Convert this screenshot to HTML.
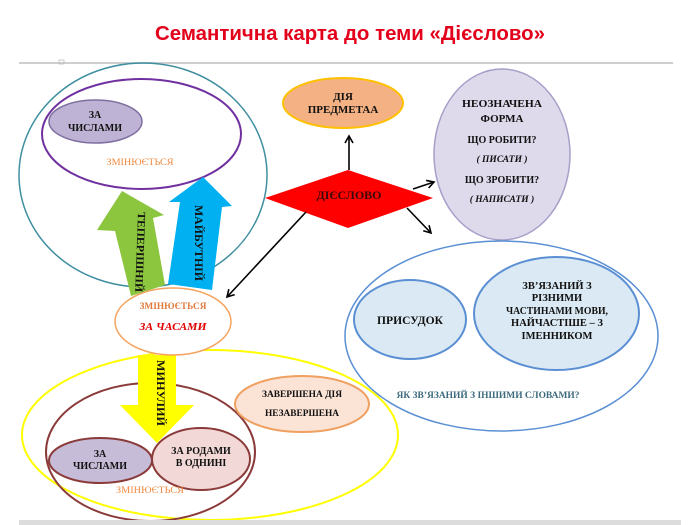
<!DOCTYPE html>
<html><head><meta charset="utf-8"><style>
html,body{margin:0;padding:0;background:#fff;}
svg{display:block;}
.t{font-family:"Liberation Serif","DejaVu Serif",serif;font-weight:bold;}
</style></head><body>
<svg width="700" height="525" viewBox="0 0 700 525" xmlns="http://www.w3.org/2000/svg">
<defs>
<marker id="ah" markerWidth="10" markerHeight="10" refX="8" refY="5" orient="auto" markerUnits="userSpaceOnUse">
<path d="M1,1 L8,5 L1,9" fill="none" stroke="#000" stroke-width="1.6"/>
</marker>
</defs>
<rect width="700" height="525" fill="#fff"/>
<text x="350" y="40" text-anchor="middle" font-family="'Liberation Sans',sans-serif" font-weight="bold" font-size="20" fill="#e3001b" textLength="390" lengthAdjust="spacingAndGlyphs">Семантична карта до теми «Дієслово»</text>
<line x1="19" y1="63" x2="673" y2="63" stroke="#cfcfcf" stroke-width="2"/>
<rect x="59" y="60" width="5" height="4" fill="none" stroke="#bbb" stroke-width="0.8"/>

<!-- top-left group -->
<ellipse cx="143" cy="175" rx="124" ry="112" fill="none" stroke="#3f8fa0" stroke-width="1.5"/>
<ellipse cx="141.5" cy="134" rx="99.5" ry="55" fill="none" stroke="#7030a0" stroke-width="2"/>
<ellipse cx="95.5" cy="121.5" rx="46.5" ry="21.5" fill="#bfb3d5" stroke="#7f6fa0" stroke-width="1.5"/>
<text class="t" fill="#111" x="95" y="118" text-anchor="middle" font-size="10">ЗА</text>
<text class="t" fill="#111" x="95" y="131" text-anchor="middle" font-size="10">ЧИСЛАМИ</text>
<text x="140" y="165" text-anchor="middle" font-family="'Liberation Serif',serif" font-size="9.5" fill="#f08a40" textLength="67" lengthAdjust="spacingAndGlyphs">ЗМІНЮЄТЬСЯ</text>

<!-- arrows -->
<polygon points="122,191 164,215 153,218 165,285 131,296 115,231 97,230" fill="#8cc63f"/>
<polygon points="203,177 232,206 222,207 212,290 168,284 180,202 169,202" fill="#00b0f0"/>
<text class="t" fill="#111" transform="translate(138,212) rotate(92)" font-size="11" textLength="80" lengthAdjust="spacingAndGlyphs">ТЕПЕРІШНІЙ</text>
<text class="t" fill="#111" transform="translate(195,205) rotate(90)" font-size="11.5" textLength="76" lengthAdjust="spacingAndGlyphs">МАЙБУТНІЙ</text>

<!-- center -->
<ellipse cx="343" cy="103" rx="60" ry="25" fill="#f4b183" stroke="#ffc000" stroke-width="2"/>
<text class="t" fill="#111" x="343" y="100" text-anchor="middle" font-size="11">ДІЯ</text>
<text class="t" fill="#111" x="343" y="113" text-anchor="middle" font-size="11">ПРЕДМЕТАА</text>
<polygon points="265,198 348,170 433,198 348,228" fill="#ff0000"/>
<text class="t" x="349" y="199" text-anchor="middle" font-size="12" fill="#3a0a0a" textLength="65" lengthAdjust="spacingAndGlyphs">ДІЄСЛОВО</text>
<line x1="349" y1="170" x2="349" y2="136" stroke="#000" stroke-width="1.6" marker-end="url(#ah)"/>
<line x1="413" y1="189" x2="434" y2="182" stroke="#000" stroke-width="1.6" marker-end="url(#ah)"/>
<line x1="407" y1="208" x2="431" y2="233" stroke="#000" stroke-width="1.6" marker-end="url(#ah)"/>
<line x1="306" y1="212" x2="227" y2="297" stroke="#000" stroke-width="1.6" marker-end="url(#ah)"/>

<!-- infinitive -->
<ellipse cx="502" cy="154.5" rx="68" ry="85.5" fill="#dedaec" stroke="#a89fc8" stroke-width="1.5"/>
<text class="t" fill="#111" x="502" y="107" text-anchor="middle" font-size="11" textLength="80" lengthAdjust="spacingAndGlyphs">НЕОЗНАЧЕНА</text>
<text class="t" fill="#111" x="502" y="122" text-anchor="middle" font-size="11">ФОРМА</text>
<text class="t" fill="#111" x="502" y="143" text-anchor="middle" font-size="10">ЩО РОБИТИ?</text>
<text class="t" fill="#111" x="502" y="162" text-anchor="middle" font-size="9.5" font-style="italic">( ПИСАТИ )</text>
<text class="t" fill="#111" x="502" y="183" text-anchor="middle" font-size="10">ЩО ЗРОБИТИ?</text>
<text class="t" fill="#111" x="502" y="202" text-anchor="middle" font-size="9.5" font-style="italic">( НАПИСАТИ )</text>

<!-- right group -->
<ellipse cx="501.5" cy="336" rx="156.5" ry="95" fill="none" stroke="#5b8fd4" stroke-width="1.5"/>
<ellipse cx="410" cy="319.5" rx="56" ry="39.5" fill="#dae9f3" stroke="#5b8fd4" stroke-width="2"/>
<text class="t" fill="#111" x="410" y="324" text-anchor="middle" font-size="12" textLength="66" lengthAdjust="spacingAndGlyphs">ПРИСУДОК</text>
<ellipse cx="556.5" cy="313.5" rx="82.5" ry="56.5" fill="#dae9f3" stroke="#5b8fd4" stroke-width="2"/>
<text class="t" fill="#111" x="557" y="289" text-anchor="middle" font-size="10.5">ЗВ’ЯЗАНИЙ  З</text>
<text class="t" fill="#111" x="557" y="301" text-anchor="middle" font-size="10.5">РІЗНИМИ</text>
<text class="t" fill="#111" x="557" y="314" text-anchor="middle" font-size="10.5" textLength="102" lengthAdjust="spacingAndGlyphs">ЧАСТИНАМИ МОВИ,</text>
<text class="t" fill="#111" x="557" y="326" text-anchor="middle" font-size="10.5">НАЙЧАСТІШЕ – З</text>
<text class="t" fill="#111" x="557" y="339" text-anchor="middle" font-size="10.5">ІМЕННИКОМ</text>
<text class="t" x="488" y="398" text-anchor="middle" font-size="9" fill="#3d6b7d" textLength="183" lengthAdjust="spacingAndGlyphs">ЯК ЗВ’ЯЗАНИЙ З ІНШИМИ СЛОВАМИ?</text>

<!-- bottom-left group -->
<ellipse cx="210" cy="435" rx="188" ry="85" fill="none" stroke="#ffff00" stroke-width="2"/>
<ellipse cx="150.5" cy="452" rx="104.5" ry="69" fill="none" stroke="#8b3a3a" stroke-width="2"/>
<polygon points="138,355 176,355 176,405 194,405 157,443 120,405 138,405" fill="#ffff00"/>
<text class="t" fill="#111" transform="translate(157,360) rotate(90)" font-size="12" textLength="66" lengthAdjust="spacingAndGlyphs">МИНУЛИЙ</text>
<ellipse cx="173" cy="321.5" rx="58" ry="33.5" fill="#fff" stroke="#f4a460" stroke-width="1.5"/>
<text class="t" x="173" y="309" text-anchor="middle" font-size="9.5" fill="#e07a3a" textLength="67" lengthAdjust="spacingAndGlyphs">ЗМІНЮЄТЬСЯ</text>
<text class="t" x="173" y="330" text-anchor="middle" font-size="11" font-style="italic" fill="#e00000" textLength="67" lengthAdjust="spacingAndGlyphs">ЗА ЧАСАМИ</text>

<ellipse cx="302" cy="404" rx="67" ry="28" fill="#fbe3d6" stroke="#f0a060" stroke-width="2"/>
<text class="t" fill="#111" x="302" y="397" text-anchor="middle" font-size="9.5" textLength="80" lengthAdjust="spacingAndGlyphs">ЗАВЕРШЕНА ДІЯ</text>
<text class="t" fill="#111" x="302" y="416" text-anchor="middle" font-size="9.5" textLength="74" lengthAdjust="spacingAndGlyphs">НЕЗАВЕРШЕНА</text>

<ellipse cx="100.5" cy="460.5" rx="51.5" ry="22.5" fill="#c7bcd8" stroke="#8b3a3a" stroke-width="2"/>
<text class="t" fill="#111" x="100" y="457" text-anchor="middle" font-size="10">ЗА</text>
<text class="t" fill="#111" x="100" y="469" text-anchor="middle" font-size="10">ЧИСЛАМИ</text>
<ellipse cx="201" cy="459" rx="49" ry="31" fill="#f2d9d7" stroke="#8b3a3a" stroke-width="2"/>
<text class="t" fill="#111" x="201" y="454" text-anchor="middle" font-size="10">ЗА РОДАМИ</text>
<text class="t" fill="#111" x="201" y="466" text-anchor="middle" font-size="10">В ОДНИНІ</text>
<text x="150" y="493" text-anchor="middle" font-family="'Liberation Serif',serif" font-size="9.5" fill="#f08a40" textLength="68" lengthAdjust="spacingAndGlyphs">ЗМІНЮЄТЬСЯ</text>

<rect x="19" y="520" width="662" height="5" fill="#dcdcdc"/>
</svg>
</body></html>
